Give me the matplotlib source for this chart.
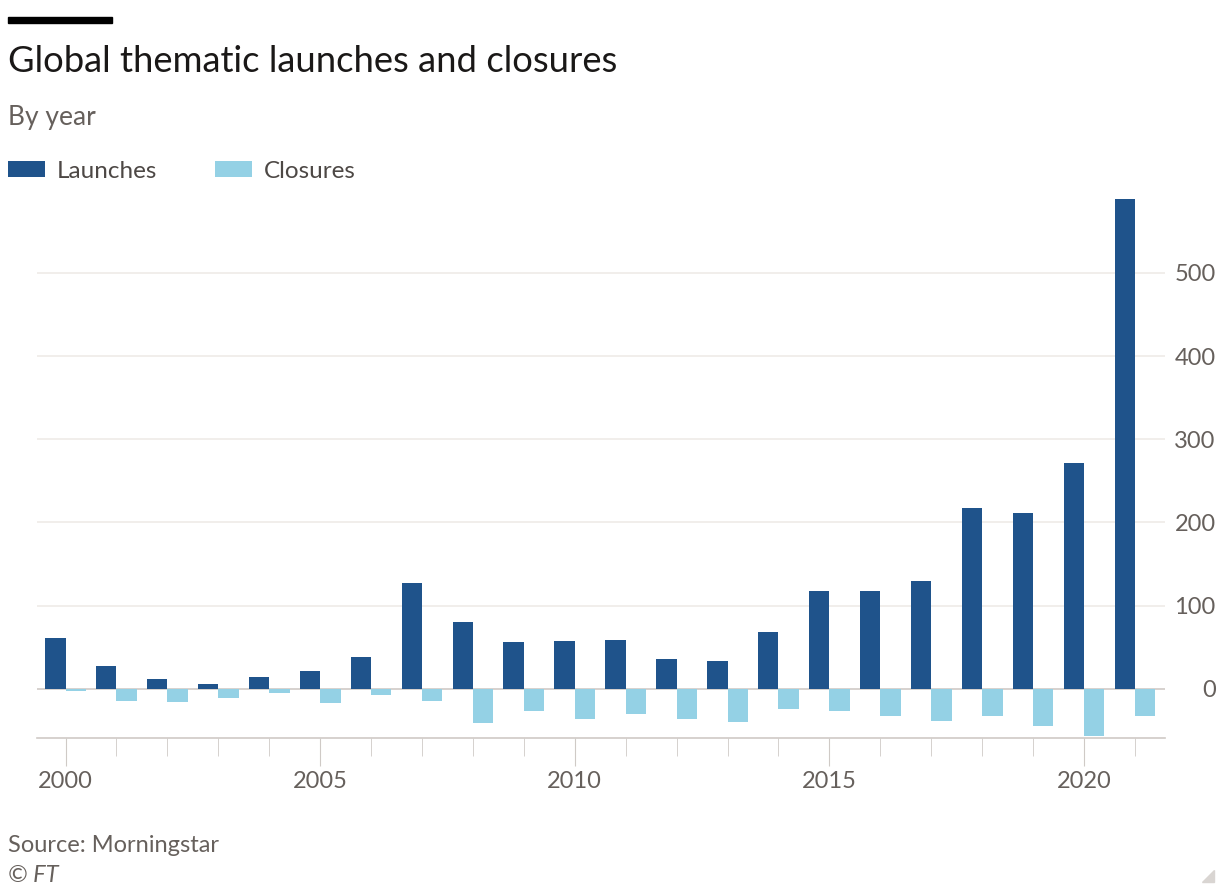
import matplotlib.pyplot as plt
from matplotlib.patches import Rectangle, Polygon

years = list(range(2000, 2022))
launches = [61, 28, 12, 6, 14, 22, 38, 127, 80, 56, 57, 59, 36, 34, 68, 118, 118, 130, 218, 211, 271, 589]
closures = [-3, -14, -16, -11, -5, -17, -7, -14, -41, -26, -36, -30, -36, -40, -24, -26, -32, -39, -32, -44, -56, -32]
yticks = [0, 100, 200, 300, 400, 500]
xticks = [2000, 2005, 2010, 2015, 2020]

dark = "#1f538b"
light = "#94d1e5"
grey = "#66605c"

plt.rcParams['font.family'] = ['Lato', 'DejaVu Sans']

fig = plt.figure(figsize=(12.2, 8.85), dpi=100)
W, H = 1220, 885
ax = fig.add_axes([37 / W, 1 - 738 / H, (1165 - 37) / W, (738 - 198) / H])

# launches sit left of the year tick, closures right of it
b1 = ax.bar([y - 0.4 for y in years], launches, width=0.4, align="edge", color=dark,
            label="Launches", zorder=3)
b2 = ax.bar(years, closures, width=0.4, align="edge", color=light, label="Closures", zorder=3)

ax.set_xlim(1999.44, 2021.59)
ax.set_ylim(-59, 590)

ax.yaxis.tick_right()
ax.set_yticks(yticks)
ax.set_yticklabels([str(v) for v in yticks], fontsize=17, color=grey)
ax.tick_params(axis="y", length=0, pad=36.5)
for lab in ax.get_yticklabels():
    lab.set_horizontalalignment("right")
for v in yticks:
    ax.axhline(v, color="#cfcac6" if v == 0 else "#efebe8", lw=1.2, zorder=1)

ax.set_xticks(xticks)
ax.set_xticklabels([str(v) for v in xticks], fontsize=17, color=grey)
ax.set_xticks(years, minor=True)
ax.tick_params(axis="x", which="major", length=20, color="#cfcac6", pad=4)
ax.tick_params(axis="x", which="minor", length=13, color="#cfcac6")

for s in ["top", "left", "right"]:
    ax.spines[s].set_visible(False)
ax.spines["bottom"].set_color("#cfcac6")
ax.spines["bottom"].set_linewidth(1.2)

fig.patches.append(Rectangle((8 / W, 1 - 23 / H), 104 / W, 6 / H, transform=fig.transFigure,
                             color="black", figure=fig))
fig.text(8 / W, 1 - 62 / H, "Global thematic launches and closures", fontsize=26.2,
         color="#1a1817", va="center", ha="left")
fig.text(8 / W, 1 - 118 / H, "By year", fontsize=19, color=grey, va="center", ha="left")

fig.legend(handles=[b1, b2], labels=["Launches", "Closures"], loc="center left",
           bbox_to_anchor=(8 / W, 1 - 171 / H), ncol=2, frameon=False, fontsize=17.5,
           handlelength=1.52, handleheight=0.62, handletextpad=0.5, columnspacing=2.35,
           borderaxespad=0, borderpad=0, labelcolor="#4d4845")

fig.text(8 / W, 1 - 845 / H, "Source: Morningstar", fontsize=17, color=grey, va="center", ha="left")
fig.text(8 / W, 1 - 875 / H, "© FT", fontsize=17, color=grey, style="italic", va="center", ha="left")

fig.patches.append(Polygon([(1214 / W, 1 - 870 / H), (1214 / W, 1 - 882 / H), (1202 / W, 1 - 882 / H)],
                           closed=True, transform=fig.transFigure, color="#d9d5d2", figure=fig))

fig.savefig("out.png", dpi=100, facecolor="white")
